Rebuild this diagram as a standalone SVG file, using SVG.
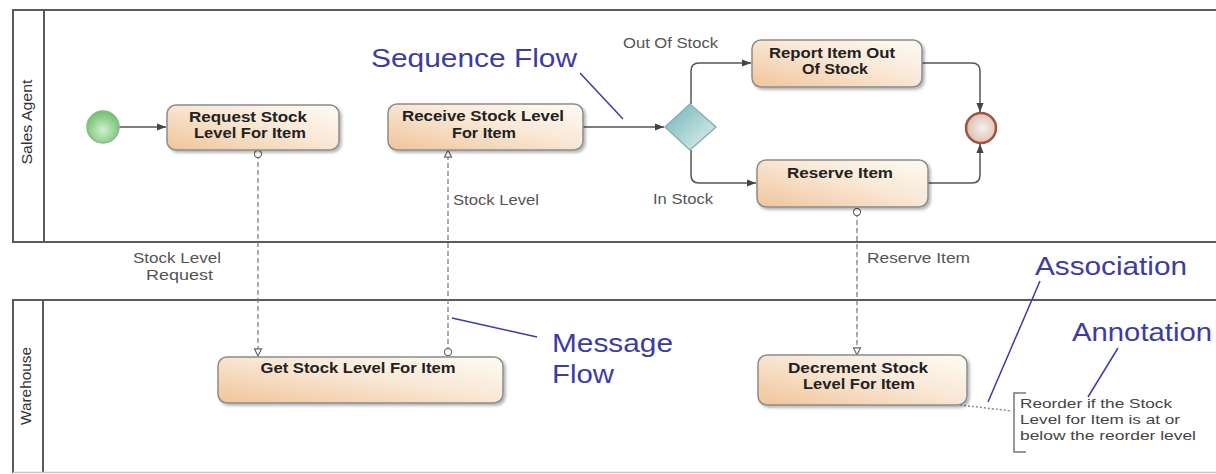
<svg xmlns="http://www.w3.org/2000/svg" width="1216" height="474" viewBox="0 0 1216 474">
  <style>
    .pool { fill: none; stroke: #5a5a5a; stroke-width: 2; }
    .poolname { font-family: "Liberation Sans", Arial, sans-serif; font-size: 14px; fill: #333; text-anchor: middle; }
    .task { stroke: #8c8c8c; stroke-width: 1.5; fill: url(#taskFill); filter: url(#shadow); }
    .tasktext { font-family: "Liberation Sans", Arial, sans-serif; font-size: 14px; font-weight: bold; fill: #222; text-anchor: middle; }
    .label { font-family: "Liberation Sans", Arial, sans-serif; font-size: 14px; fill: #555; }
    .callout { font-family: "Liberation Sans", Arial, sans-serif; font-size: 26px; fill: #3c3ca2; }
    .pointer { stroke: #3c3ca2; stroke-width: 1.5; fill: none; }
    .seq { stroke: #555; stroke-width: 1.5; fill: none; marker-end: url(#seqArrow); }
    .msg { stroke: #777; stroke-width: 1.2; fill: none; stroke-dasharray: 5 3; marker-start: url(#msgStart); marker-end: url(#msgEnd); }
    .assoc { stroke: #888; stroke-width: 1.5; fill: none; stroke-dasharray: 2 2; }
    .note { stroke: #777; stroke-width: 1.5; fill: none; }
    .notetext { font-family: "Liberation Sans", Arial, sans-serif; font-size: 13px; fill: #444; }
  </style>
  <defs>
    <linearGradient id="taskFill" x1="0" y1="1" x2="1" y2="0">
      <stop offset="0" stop-color="#f0c49a"/>
      <stop offset="0.55" stop-color="#f9e8d6"/>
      <stop offset="1" stop-color="#fdfbf4"/>
    </linearGradient>
    <radialGradient id="startFill" cx="0.5" cy="0.6" r="0.6">
      <stop offset="0" stop-color="#d2efd0"/>
      <stop offset="1" stop-color="#6ec06a"/>
    </radialGradient>
    <linearGradient id="gatewayFill" x1="0" y1="0" x2="1" y2="1">
      <stop offset="0" stop-color="#6fb3b6"/>
      <stop offset="1" stop-color="#e3f3f2"/>
    </linearGradient>
    <radialGradient id="endFill" cx="0.55" cy="0.5" r="0.6">
      <stop offset="0" stop-color="#eef2ee"/>
      <stop offset="1" stop-color="#e2b6a8"/>
    </radialGradient>
    <filter id="shadow" x="-10%" y="-20%" width="130%" height="150%">
      <feDropShadow dx="2" dy="2" stdDeviation="1.5" flood-color="#000" flood-opacity="0.3"/>
    </filter>
    <marker id="seqArrow" viewBox="0 0 10 10" refX="10" refY="5" markerWidth="9" markerHeight="9" markerUnits="userSpaceOnUse" orient="auto">
      <path d="M0,1 L10,5 L0,9 Z" fill="#444"/>
    </marker>
    <marker id="msgStart" viewBox="0 0 10 10" refX="5" refY="5" markerWidth="9" markerHeight="9" markerUnits="userSpaceOnUse" orient="auto">
      <circle cx="5" cy="5" r="4" fill="#fff" stroke="#666" stroke-width="1.3"/>
    </marker>
    <marker id="msgEnd" viewBox="0 0 10 10" refX="9" refY="5" markerWidth="9" markerHeight="9" markerUnits="userSpaceOnUse" orient="auto">
      <path d="M1,1 L9,5 L1,9 Z" fill="#fff" stroke="#666" stroke-width="1.3"/>
    </marker>
  </defs>

  <rect width="1216" height="474" fill="#fff"/>

  <!-- Pools -->
  <g id="pool-sales-agent">
    <path class="pool" d="M1216,10 H13 V242 H1216"/>
    <line class="pool" x1="44" y1="10" x2="44" y2="242"/>
    <text class="poolname" transform="translate(32,122) rotate(-90)" textLength="85" lengthAdjust="spacingAndGlyphs">Sales Agent</text>
  </g>
  <g id="pool-warehouse">
    <path class="pool" d="M1216,300 H13 V473"/>
    <line class="pool" x1="43" y1="300" x2="43" y2="473"/>
    <line x1="13" y1="472.5" x2="1216" y2="472.5" stroke="#c4c4c4" stroke-width="1.5"/>
    <text class="poolname" transform="translate(31,386) rotate(-90)" textLength="78" lengthAdjust="spacingAndGlyphs">Warehouse</text>
  </g>

  <!-- Connectors -->
  <g id="connectors">
    <path class="seq" d="M119,127 H166"/>
    <path class="seq" d="M583,127 H664"/>
    <path class="seq" d="M691,104 V71 Q691,63 699,63 H751"/>
    <path class="seq" d="M691,150 V175 Q691,183 699,183 H756"/>
    <path class="seq" d="M922,63 H972 Q980,63 980,71 V112"/>
    <path class="seq" d="M928,183 H972 Q980,183 980,175 V144"/>

    <path class="msg" d="M258,154 V356"/>
    <path class="msg" d="M448,352 V150"/>
    <path class="msg" d="M857,212 V355"/>

    <path class="assoc" d="M960,405 L1012,411"/>
  </g>

  <!-- Events, gateway and tasks -->
  <g id="start-event">
    <circle cx="103" cy="127" r="16" fill="url(#startFill)" stroke="#8ab88a" stroke-width="1.5"/>
  </g>

  <g id="task-request">
    <rect class="task" x="167" y="105" width="172" height="45" rx="9"/>
    <text class="tasktext" x="248" y="122" textLength="118" lengthAdjust="spacingAndGlyphs">Request Stock</text>
    <text class="tasktext" x="250" y="138" textLength="112" lengthAdjust="spacingAndGlyphs">Level For Item</text>
  </g>

  <g id="task-receive">
    <rect class="task" x="388" y="104" width="195" height="46" rx="9"/>
    <text class="tasktext" x="483" y="121" textLength="162" lengthAdjust="spacingAndGlyphs">Receive Stock Level</text>
    <text class="tasktext" x="484" y="138" textLength="64" lengthAdjust="spacingAndGlyphs">For Item</text>
  </g>

  <g id="gateway">
    <path d="M690,104 L716,127 L690,150 L665,127 Z" fill="url(#gatewayFill)" stroke="#8fb0b0" stroke-width="1.5"/>
  </g>

  <g id="task-report">
    <rect class="task" x="752" y="40" width="170" height="47" rx="9"/>
    <text class="tasktext" x="832" y="58" textLength="126" lengthAdjust="spacingAndGlyphs">Report Item Out</text>
    <text class="tasktext" x="835" y="74" textLength="66" lengthAdjust="spacingAndGlyphs">Of Stock</text>
  </g>

  <g id="task-reserve">
    <rect class="task" x="757" y="160" width="171" height="47" rx="9"/>
    <text class="tasktext" x="840" y="178" textLength="106" lengthAdjust="spacingAndGlyphs">Reserve Item</text>
  </g>

  <g id="end-event">
    <circle cx="981" cy="128" r="15" fill="url(#endFill)" stroke="#9c5444" stroke-width="2.5"/>
  </g>

  <g id="task-get-stock">
    <rect class="task" x="218" y="357" width="285" height="46" rx="9"/>
    <text class="tasktext" x="358" y="373" textLength="195" lengthAdjust="spacingAndGlyphs">Get Stock Level For Item</text>
  </g>

  <g id="task-decrement">
    <rect class="task" x="758" y="355" width="209" height="50" rx="9"/>
    <text class="tasktext" x="858" y="373" textLength="140" lengthAdjust="spacingAndGlyphs">Decrement Stock</text>
    <text class="tasktext" x="859" y="389" textLength="112" lengthAdjust="spacingAndGlyphs">Level For Item</text>
  </g>

  <!-- Flow labels -->
  <g id="flow-labels">
    <text class="label" x="623" y="48" textLength="95" lengthAdjust="spacingAndGlyphs">Out Of Stock</text>
    <text class="label" x="653" y="204" textLength="60" lengthAdjust="spacingAndGlyphs">In Stock</text>
    <text class="label" x="453" y="205" textLength="86" lengthAdjust="spacingAndGlyphs">Stock Level</text>
    <text class="label" x="133" y="263" textLength="88" lengthAdjust="spacingAndGlyphs">Stock Level</text>
    <text class="label" x="146" y="280" textLength="67" lengthAdjust="spacingAndGlyphs">Request</text>
    <text class="label" x="867" y="263" textLength="103" lengthAdjust="spacingAndGlyphs">Reserve Item</text>
  </g>

  <!-- Text annotation -->
  <g id="annotation">
    <path class="note" d="M1026,393 H1014 V452 H1026"/>
    <text class="notetext" x="1020" y="408" textLength="152" lengthAdjust="spacingAndGlyphs">Reorder if the Stock</text>
    <text class="notetext" x="1020" y="424" textLength="160" lengthAdjust="spacingAndGlyphs">Level for Item is at or</text>
    <text class="notetext" x="1020" y="440" textLength="176" lengthAdjust="spacingAndGlyphs">below the reorder level</text>
  </g>

  <!-- Element callouts -->
  <g id="callouts">
    <text class="callout" x="371" y="67" textLength="206" lengthAdjust="spacingAndGlyphs">Sequence Flow</text>
    <line class="pointer" x1="580" y1="73" x2="623" y2="119"/>
    <text class="callout" x="552" y="352" textLength="121" lengthAdjust="spacingAndGlyphs">Message</text>
    <text class="callout" x="552" y="383" textLength="62" lengthAdjust="spacingAndGlyphs">Flow</text>
    <line class="pointer" x1="452" y1="318" x2="537" y2="337"/>
    <text class="callout" x="1035" y="275" textLength="152" lengthAdjust="spacingAndGlyphs">Association</text>
    <line class="pointer" x1="1040" y1="281" x2="988" y2="402"/>
    <text class="callout" x="1072" y="341" textLength="140" lengthAdjust="spacingAndGlyphs">Annotation</text>
    <line class="pointer" x1="1118" y1="348" x2="1088" y2="397"/>
  </g>
</svg>
